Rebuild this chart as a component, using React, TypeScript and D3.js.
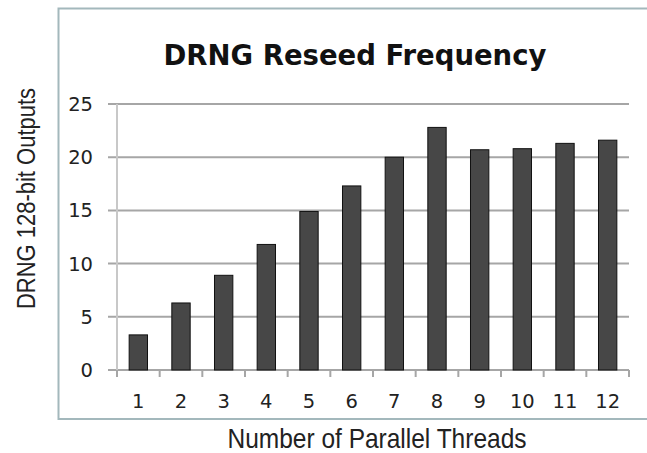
import React from "react";
import * as d3 from "d3";

const threads = ["1", "2", "3", "4", "5", "6", "7", "8", "9", "10", "11", "12"];
const outputs = [3.3, 6.3, 8.9, 11.8, 14.9, 17.3, 20.0, 22.8, 20.7, 20.8, 21.3, 21.6];
const yTicks = [0, 5, 10, 15, 20, 25];

const W = 647;
const H = 453;
const plotL = 117;
const plotR = 629;
const plotT = 104;
const plotB = 370;

export default function App() {
  const x = d3.scaleBand<string>().domain(threads).range([plotL, plotR]).paddingInner(0.57).paddingOuter(0.285);
  const xb = d3.scaleBand<string>().domain(threads).range([plotL, plotR]);
  const y = d3.scaleLinear().domain([0, 25]).range([plotB, plotT]);
  const gridColor = "#a6a6a6";
  return (
    <svg width={W} height={H} style={{ position: "absolute", left: 0, top: 0, background: "#fff" }}>
      <rect x={0} y={0} width={W} height={H} fill="#fff" />
      {/* frame */}
      <path d={`M${W + 2},8.5 H58.5 V419 H${W + 2}`} fill="none" stroke="#a3b8bc" strokeWidth={2} />
      {/* title */}
      <text x={355} y={65} textAnchor="middle" fontFamily="DejaVu Sans" fontWeight="bold" fontSize={27.5} fill="#111">
        DRNG Reseed Frequency
      </text>
      {/* gridlines */}
      {yTicks.map((t) => (
        <line key={t} x1={108} x2={plotR} y1={y(t)} y2={y(t)} stroke={gridColor} strokeWidth={2} />
      ))}
      {/* y axis */}
      <line x1={plotL} x2={plotL} y1={plotT} y2={plotB} stroke="#c8c8c8" strokeWidth={2} />
      {yTicks.map((t) => (
        <text key={"yl" + t} x={93} y={y(t) + 7} textAnchor="end" fontFamily="DejaVu Sans" fontSize={19.5} fill="#222">
          {t}
        </text>
      ))}
      {/* x ticks */}
      {threads.map((c) => (
        <line key={"xt" + c} x1={xb(c)!} x2={xb(c)!} y1={plotB} y2={plotB + 7} stroke={gridColor} strokeWidth={2} />
      ))}
      <line x1={plotR} x2={plotR} y1={plotB} y2={plotB + 7} stroke={gridColor} strokeWidth={2} />
      {/* bars */}
      {threads.map((c, i) => (
        <rect
          key={"b" + c}
          x={x(c)!}
          y={y(outputs[i])}
          width={x.bandwidth()}
          height={plotB - y(outputs[i])}
          fill="#474747"
          stroke="#111"
          strokeWidth={1}
        />
      ))}
      {/* x labels */}
      {threads.map((c) => (
        <text key={"xl" + c} x={xb(c)! + xb.bandwidth() / 2} y={408} textAnchor="middle" fontFamily="DejaVu Sans" fontSize={19.5} fill="#222">
          {c}
        </text>
      ))}
      {/* axis titles */}
      <text
        transform="translate(377,448) scale(1,1.15)"
        textAnchor="middle"
        fontFamily="Liberation Sans"
        fontSize={24.5}
        fill="#222"
      >
        Number of Parallel Threads
      </text>
      <text
        transform="translate(35,198.5) rotate(-90) scale(1,1.15)"
        textAnchor="middle"
        fontFamily="Liberation Sans"
        fontSize={22}
        fill="#222"
      >
        DRNG 128-bit Outputs
      </text>
    </svg>
  );
}
